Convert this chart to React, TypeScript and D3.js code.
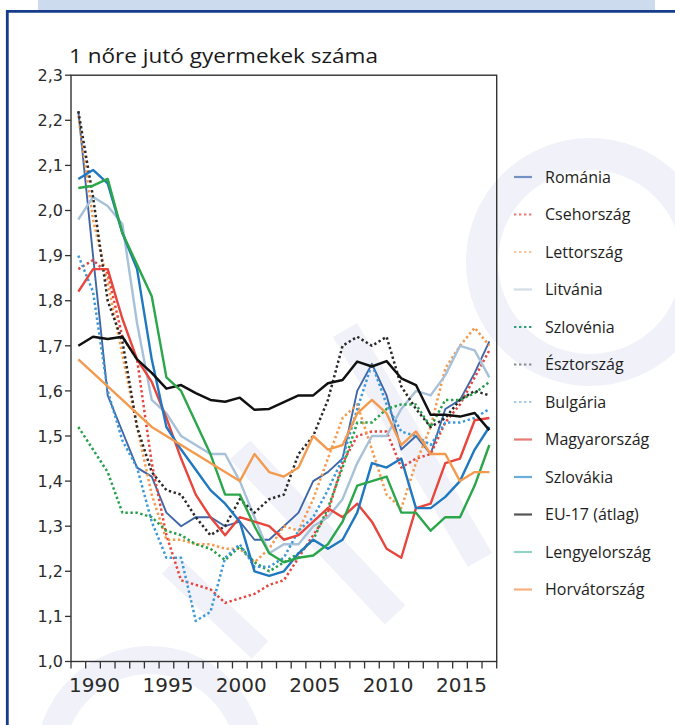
import { useEffect, useRef } from 'react';
import * as d3 from 'd3';

const years = [1989, 1990, 1991, 1992, 1993, 1994, 1995, 1996, 1997, 1998, 1999, 2000, 2001, 2002, 2003,
  2004, 2005, 2006, 2007, 2008, 2009, 2010, 2011, 2012, 2013, 2014, 2015, 2016, 2017];

const romania = [2.22, 1.90, 1.59, 1.51, 1.43, 1.41, 1.33, 1.30, 1.32, 1.32, 1.30, 1.31, 1.27, 1.27, 1.30,
  1.33, 1.40, 1.42, 1.45, 1.60, 1.66, 1.59, 1.47, 1.50, 1.46, 1.56, 1.58, 1.64, 1.71];
const csehorszag = [1.87, 1.89, 1.86, 1.72, 1.67, 1.44, 1.28, 1.18, 1.17, 1.16, 1.13, 1.14, 1.15, 1.17, 1.18,
  1.23, 1.28, 1.33, 1.44, 1.50, 1.51, 1.51, 1.43, 1.45, 1.46, 1.53, 1.57, 1.63, 1.69];
const lettorszag = [2.21, 1.98, 1.84, 1.68, 1.52, 1.37, 1.27, 1.27, 1.26, 1.26, 1.25, 1.25, 1.22, 1.25, 1.30,
  1.29, 1.36, 1.45, 1.54, 1.57, 1.47, 1.37, 1.34, 1.44, 1.52, 1.65, 1.70, 1.74, 1.70];
const litvania = [1.98, 2.03, 2.01, 1.97, 1.75, 1.58, 1.55, 1.50, 1.48, 1.46, 1.46, 1.40, 1.32, 1.24, 1.26,
  1.26, 1.30, 1.32, 1.36, 1.44, 1.50, 1.50, 1.56, 1.60, 1.59, 1.635, 1.70, 1.69, 1.63];
const szlovenia = [1.52, 1.47, 1.42, 1.33, 1.33, 1.32, 1.29, 1.28, 1.26, 1.25, 1.225, 1.255, 1.22, 1.20, 1.22,
  1.24, 1.27, 1.34, 1.43, 1.53, 1.53, 1.56, 1.57, 1.57, 1.52, 1.58, 1.58, 1.595, 1.62];
const esztorszag = [2.22, 2.03, 1.80, 1.71, 1.52, 1.42, 1.38, 1.37, 1.32, 1.28, 1.30, 1.36, 1.33, 1.36, 1.37,
  1.46, 1.50, 1.58, 1.70, 1.72, 1.70, 1.72, 1.61, 1.56, 1.52, 1.54, 1.58, 1.60, 1.59];
const bulgaria = [1.90, 1.82, 1.60, 1.49, 1.43, 1.31, 1.23, 1.23, 1.09, 1.11, 1.23, 1.26, 1.21, 1.21, 1.23,
  1.29, 1.32, 1.38, 1.45, 1.56, 1.66, 1.57, 1.51, 1.50, 1.48, 1.53, 1.53, 1.54, 1.56];
const magyarorszag = [1.82, 1.87, 1.87, 1.76, 1.67, 1.62, 1.54, 1.45, 1.37, 1.32, 1.28, 1.32, 1.31, 1.30, 1.27,
  1.28, 1.31, 1.34, 1.32, 1.35, 1.31, 1.25, 1.23, 1.34, 1.35, 1.44, 1.45, 1.535, 1.54];
const szlovakia = [2.07, 2.09, 2.06, 1.95, 1.87, 1.67, 1.52, 1.47, 1.425, 1.38, 1.35, 1.31, 1.20, 1.19, 1.20,
  1.24, 1.27, 1.25, 1.27, 1.33, 1.44, 1.43, 1.45, 1.34, 1.34, 1.365, 1.40, 1.47, 1.52];
const eu17 = [1.70, 1.72, 1.715, 1.72, 1.67, 1.64, 1.605, 1.613, 1.595, 1.58, 1.576, 1.585, 1.558, 1.56, 1.575,
  1.59, 1.59, 1.617, 1.624, 1.665, 1.654, 1.666, 1.628, 1.613, 1.547, 1.547, 1.543, 1.551, 1.513];
const lengyelorszag = [2.05, 2.055, 2.07, 1.95, 1.88, 1.81, 1.63, 1.60, 1.53, 1.46, 1.37, 1.37, 1.30, 1.24, 1.22,
  1.23, 1.235, 1.26, 1.31, 1.39, 1.40, 1.41, 1.33, 1.33, 1.29, 1.32, 1.32, 1.39, 1.48];
const horvatorszag = [1.67, 1.64, 1.61, 1.58, 1.55, 1.52, 1.50, 1.48, 1.46, 1.44, 1.42, 1.40, 1.46, 1.42, 1.41,
  1.43, 1.50, 1.47, 1.48, 1.55, 1.58, 1.55, 1.48, 1.51, 1.46, 1.46, 1.40, 1.42, 1.42];

const seriesNames = ['Románia', 'Csehország', 'Lettország', 'Litvánia', 'Szlovénia', 'Észtország', 'Bulgária',
  'Magyarország', 'Szlovákia', 'EU-17 (átlag)', 'Lengyelország', 'Horvátország'];
const seriesValues = [romania, csehorszag, lettorszag, litvania, szlovenia, esztorszag, bulgaria,
  magyarorszag, szlovakia, eu17, lengyelorszag, horvatorszag];

const yTicks = [1.0, 1.1, 1.2, 1.3, 1.4, 1.5, 1.6, 1.7, 1.8, 1.9, 2.0, 2.1, 2.2, 2.3];
const xLabels = [1990, 1995, 2000, 2005, 2010, 2015];
const title = '1 nőre jutó gyermekek száma';

// line styles, same order as seriesNames
const styles = [
  { color: '#3f66a6', legend: '#7391c4', dotted: false, width: 1.9 },
  { color: '#e5463f', legend: '#ea7a72', dotted: true, width: 2.5 },
  { color: '#f4994d', legend: '#f7c49c', dotted: true, width: 2.5 },
  { color: '#a7c1d8', legend: '#d3dde7', dotted: false, width: 2.4 },
  { color: '#27a04a', legend: '#2e9f78', dotted: true, width: 2.5 },
  { color: '#2a2a2a', legend: '#8a8a8a', dotted: true, width: 2.5 },
  { color: '#3c98d6', legend: '#a6cbe6', dotted: true, width: 2.5 },
  { color: '#e8453c', legend: '#e67b74', dotted: false, width: 2.4 },
  { color: '#1f78c0', legend: '#6aaddd', dotted: false, width: 2.4 },
  { color: '#111111', legend: '#555555', dotted: false, width: 2.5 },
  { color: '#2ba64a', legend: '#8fd4c4', dotted: false, width: 2.4 },
  { color: '#f39a4f', legend: '#f5b27f', dotted: false, width: 2.4 },
];

export default function App() {
  const ref = useRef<SVGSVGElement>(null);

  useEffect(() => {
    const svg = d3.select(ref.current);
    svg.selectAll('*').remove();

    // faint watermark behind everything
    const wm = svg.append('g').attr('fill', 'none').attr('stroke', '#f1f2f9');
    wm.append('circle').attr('cx', 590).attr('cy', 262).attr('r', 108).attr('stroke-width', 32);
    wm.append('line').attr('x1', 345).attr('y1', 330).attr('x2', 480).attr('y2', 560).attr('stroke-width', 28);
    wm.append('line').attr('x1', 240).attr('y1', 450).attr('x2', 395).attr('y2', 615).attr('stroke-width', 28);
    wm.append('line').attr('x1', 170).attr('y1', 565).attr('x2', 260).attr('y2', 650).attr('stroke-width', 24);
    wm.append('circle').attr('cx', 150).attr('cy', 760).attr('r', 100).attr('stroke-width', 28);

    // page frame
    svg.append('rect').attr('x', 38).attr('y', 0).attr('width', 617).attr('height', 10).attr('fill', '#cddbef');
    svg.append('path').attr('d', 'M7.3,725V11.3H675').attr('fill', 'none')
      .attr('stroke', '#163c8c').attr('stroke-width', 2.8);

    const x = d3.scaleLinear().domain([1988.5, 2017.5]).range([71, 496.7]);
    const y = d3.scaleLinear().domain([1.0, 2.3]).range([661.5, 75.2]);

    svg.append('text')
      .attr('x', 69).attr('y', 63)
      .attr('font-family', 'Open Sans, sans-serif').attr('font-size', 20)
      .attr('fill', '#1a1a1a')
      .attr('textLength', 309).attr('lengthAdjust', 'spacingAndGlyphs')
      .text(title);

    const line = d3.line<number>()
      .x((_, i) => x(years[i]))
      .y(d => y(d));

    const plot = svg.append('g');
    seriesValues.forEach((vals, i) => {
      const s = styles[i];
      plot.append('path')
        .attr('d', line(vals))
        .attr('fill', 'none')
        .attr('stroke', s.color)
        .attr('stroke-width', s.width)
        .attr('stroke-dasharray', s.dotted ? '2.4,2.6' : null)
        .attr('stroke-linejoin', 'round');
    });

    // axes box
    const [x0, x1] = x.range();
    const [y0, y1] = y.range();
    svg.append('rect')
      .attr('x', x0).attr('y', y1).attr('width', x1 - x0).attr('height', y0 - y1)
      .attr('fill', 'none').attr('stroke', '#333').attr('stroke-width', 1.4);

    const yAxis = svg.append('g');
    yTicks.forEach(t => {
      yAxis.append('line').attr('x1', x0 - 6).attr('x2', x0).attr('y1', y(t)).attr('y2', y(t))
        .attr('stroke', '#333').attr('stroke-width', 1.3);
      yAxis.append('text')
        .attr('x', x0 - 8).attr('y', y(t)).attr('dy', '0.36em')
        .attr('text-anchor', 'end')
        .attr('font-family', 'DejaVu Sans, sans-serif').attr('font-size', 16)
        .attr('fill', '#2a2a2a')
        .text(d3.format('.1f')(t).replace('.', ','));
    });

    const xAxis = svg.append('g');
    d3.range(1988.5, 2018, 1).forEach(t => {
      xAxis.append('line').attr('x1', x(t)).attr('x2', x(t)).attr('y1', y0).attr('y2', y0 + 7)
        .attr('stroke', '#333').attr('stroke-width', 1.3);
    });
    xLabels.forEach(t => {
      xAxis.append('text')
        .attr('x', x(t) + 1.5).attr('y', 692)
        .attr('text-anchor', 'middle')
        .attr('font-family', 'DejaVu Sans, sans-serif').attr('font-size', 20)
        .attr('fill', '#2a2a2a')
        .text(t);
    });

    // legend
    const legend = svg.append('g');
    seriesNames.forEach((name, i) => {
      const s = styles[i];
      const ly = 177 + i * 37.5;
      legend.append('line')
        .attr('x1', 514).attr('x2', 532).attr('y1', ly).attr('y2', ly)
        .attr('stroke', s.legend).attr('stroke-width', 2.2)
        .attr('stroke-dasharray', s.dotted ? '2.4,2.6' : null);
      legend.append('text')
        .attr('x', 545).attr('y', ly).attr('dy', '0.35em')
        .attr('font-family', 'Open Sans, sans-serif').attr('font-size', 16)
        .attr('fill', '#1e1e1e')
        .text(name);
    });
  }, []);

  return (
    <div style={{ position: 'fixed', left: 0, top: 0 }}>
      <svg ref={ref} width={675} height={725} style={{ display: 'block', background: '#fff' }} />
    </div>
  );
}
